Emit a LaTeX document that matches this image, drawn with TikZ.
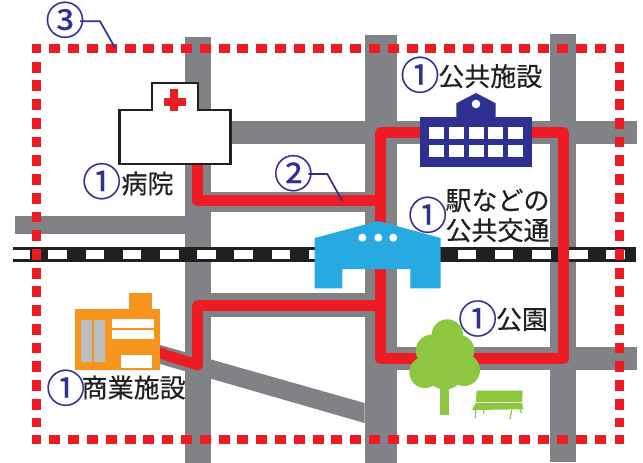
\documentclass[tikz,border=0pt]{standalone}
\usepackage{fontspec}
\setmainfont{Noto Sans CJK JP}
\newfontfamily\labelfont[FakeBold=0.35]{Noto Sans CJK JP}
\newfontfamily\numfont[FakeBold=0.6]{Noto Sans CJK JP}
\definecolor{road}{HTML}{808285}
\definecolor{routered}{HTML}{ED1C24}
\definecolor{navy}{HTML}{2E3192}
\definecolor{ink}{HTML}{231F20}
\definecolor{cyanb}{HTML}{27AAE1}
\definecolor{orangeb}{HTML}{F7941D}
\definecolor{greenb}{HTML}{8DC63F}
\definecolor{greybar}{HTML}{BCBEC0}
\tikzset{
  roadfill/.style={fill=road,draw=none},
  routeline/.style={draw=routered,line width=10.8pt,line join=round},
  borderh/.style={draw=routered,line width=9pt,dash pattern=on 11pt off 7.8pt},
  borderv/.style={draw=routered,line width=8.8pt,dash pattern=on 10.8pt off 7.93pt},
  corner/.style={fill=routered,draw=none},
  label/.style={text=ink,font=\labelfont\fontsize{26}{30}\selectfont,inner sep=0pt,align=center},
  num/.style={text=navy,font=\numfont\fontsize{39}{39}\selectfont,inner sep=0pt,yshift=1.5pt},
  leader/.style={draw=navy,line width=1.7pt},
}
\begin{document}
\begin{tikzpicture}[x=1pt,y=-1pt]
\useasboundingbox (0,0) rectangle (643,463);
\fill[white] (0,0) rectangle (643,463);
% roads
\fill[roadfill] (185,37) rectangle (211,463);
\fill[roadfill] (364.5,35) rectangle (397,463);
\fill[roadfill] (550,34) rectangle (576,462);
\fill[roadfill] (211,121) rectangle (637,144);
\fill[roadfill] (211,192) rectangle (364.5,212);
\fill[roadfill] (15,216) rectangle (185,234);
\fill[roadfill] (211,293) rectangle (364.5,317);
\fill[roadfill] (397,347) rectangle (637,370);
\fill[roadfill] (160,345) -- (364.5,403) -- (364.5,423) -- (160,364) -- cycle;
% railway
\fill[ink] (13,247) rectangle (636,262);
\fill[white] (13,250) rectangle (30,259);
\foreach \k in {0,...,15}{\fill[white] ({48.3+37.2*\k},250) rectangle ({67+37.2*\k},259);}
% route
\draw[routeline] (197.5,160) -- (197.5,200.8) -- (380.5,200.8);
\draw[routeline] (380.5,230) -- (380.5,132.5) -- (563.6,132.5) -- (563.6,358.8) -- (380.5,358.8) -- (380.5,260);
\draw[routeline] (380.5,305.5) -- (197.5,305.5) -- (197.5,365) -- (155,351.5);
% dotted border
\draw[borderh] (49.3,48.7) -- (606,48.7);
\draw[borderh] (49.3,439.4) -- (606,439.4);
\draw[borderv] (36.4,61.7) -- (36.4,427);
\draw[borderv] (619.2,61.7) -- (619.2,427);
\fill[corner] (32,44.3) rectangle (41,53.3);
\fill[corner] (614.5,44.3) rectangle (623.5,53.3);
\fill[corner] (32,435) rectangle (41,444);
\fill[corner] (614.5,435) rectangle (623.5,444);
% hospital
\draw[draw=ink,fill=white,line width=2.3pt,miter limit=4] (119.5,164) -- (119.5,109.7) -- (151.7,109.7) -- (151.7,83.3) -- (198.3,83.3) -- (198.3,109.7) -- (230.5,109.7) -- (230.5,164) -- cycle;
\fill[routered] (170,89) rectangle (178.3,111);
\fill[routered] (164,98) rectangle (186,106);
% school
\fill[navy] (420,117) rectangle (532,166.7);
\fill[navy] (456.3,117) -- (456.3,103.3) -- (476,93) -- (495.7,103.3) -- (495.7,117) -- cycle;
\fill[white] (476,104) circle (4.3);
\foreach \xa/\xb in {429/444,449/464,469/484,488/503,508/523}{
  \fill[white] (\xa,127) rectangle (\xb,138.7);
  \fill[white] (\xa,145) rectangle (\xb,157);
}
% station
\fill[cyanb] (314.7,238) -- (378.3,221) -- (440.7,238) -- (440.7,288.3) -- (410.3,288.3) -- (410.3,269) -- (342.3,269) -- (342.3,288.3) -- (314.7,288.3) -- cycle;
\foreach \x in {362.3,378.3,393.3}{\fill[white] (\x,237.7) circle (4);}
% factory
\fill[orangeb] (75,309) rectangle (160,369.7);
\fill[orangeb] (129,293) rectangle (152,310);
\fill[greybar] (81,320) rectangle (91.7,361.7);
\fill[greybar] (93.7,320) rectangle (105,361.7);
\fill[white] (112,319) rectangle (154,328);
\fill[white] (112,330) rectangle (154,339);
\fill[white] (121,355) rectangle (152,367.7);
% tree
\fill[greenb] (447.3,335) circle (15.7);
\fill[greenb] (431.7,350.7) circle (16);
\fill[greenb] (458.3,350.7) circle (16);
\fill[greenb] (425,372.3) circle (15.7);
\fill[greenb] (464,370) circle (16);
\fill[greenb] (445,370) circle (19.5);
\fill[greenb] (440,380) rectangle (449,414.7);
% bench
\fill[greenb] (476.7,390.7) -- (522.7,390.7) -- (522,402) -- (475.7,402) -- cycle;
\fill[greenb] (475.7,403) -- (522,403) -- (523.3,409.3) -- (472,410) -- cycle;
\draw[greenb,line width=1.2pt] (475.6,410) -- (475.3,418);
\draw[greenb,line width=1.2pt] (483.3,410) -- (484,414);
\draw[greenb,line width=1.2pt] (511.7,410) -- (510,419);
\draw[greenb,line width=1.2pt] (520,409) -- (521.3,413.3);
% labels
\node[label] (tpublic) at (490.3,76.2) {公共施設};
\node[label] (thospital) at (147.5,183.5) {病院};
\node[label] (tstation) at (497.5,215.5) {駅などの\\公共交通};
\node[label] (tpark) at (522,319.5) {公園};
\node[label] (tshop) at (133.7,387.5) {商業施設};
\node[num] (nthree) at (65,21.3) {③};
\node[num] (ntwo) at (293.3,174.7) {②};
\node[num] (nhospital) at (101.7,182.7) {①};
\node[num] (npublic) at (420,76.3) {①};
\node[num] (nstation) at (427.7,216.3) {①};
\node[num] (npark) at (477.7,320) {①};
\node[num] (nshop) at (65.7,389.3) {①};
% leaders
\coordinate (bendthree) at (100,21.3);
\coordinate (endthree) at (115,47.7);
\coordinate (bendtwo) at (327.3,174);
\coordinate (endtwo) at (342.3,201);
\draw[leader] (80,21.3) -- (bendthree) -- (endthree);
\draw[leader] (308.3,174) -- (bendtwo) -- (endtwo);
\end{tikzpicture}
\end{document}
